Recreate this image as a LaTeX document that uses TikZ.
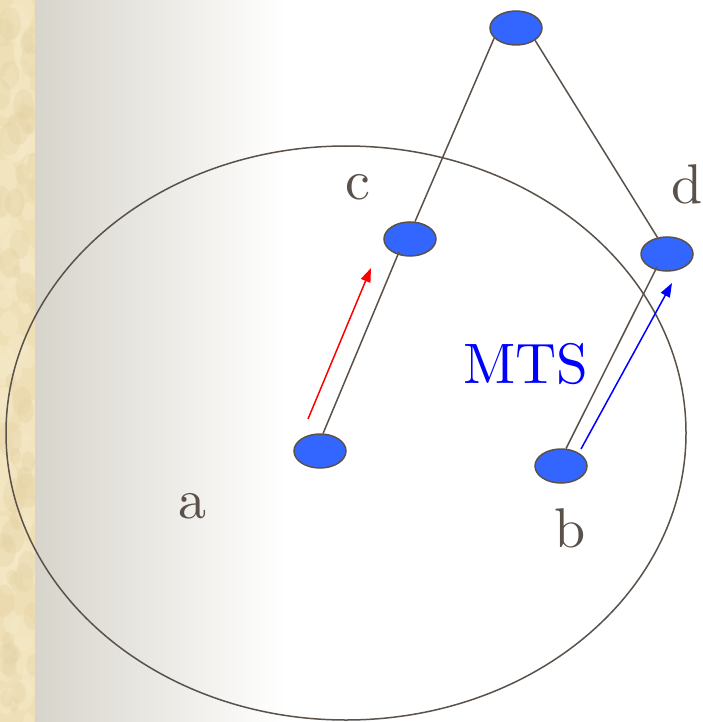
\documentclass[tikz,border=0pt]{standalone}
\usepackage{fontspec}
\newfontfamily\lmten{lmroman10-regular.otf}
\usetikzlibrary{shapes.geometric,arrows.meta,calc}
\definecolor{ink}{HTML}{5A524A}
\definecolor{nodeblue}{HTML}{3366FF}
\definecolor{parch}{HTML}{EFDFB6}
\definecolor{parchlight}{HTML}{F5E9C8}
\definecolor{parchdark}{HTML}{E4D2A4}
\definecolor{grayleft}{HTML}{D7D4CB}
\tikzset{
  vtx/.style={ellipse, draw=ink, line width=1.5pt, fill=nodeblue, minimum width=52pt, minimum height=34pt, inner sep=0pt},
  edge/.style={draw=ink, line width=1.5pt},
  lbl/.style={anchor=base, inner sep=0pt, text=ink, font=\lmten\fontsize{56}{60}\selectfont},
  mts/.style={anchor=base, inner sep=0pt, text=blue, font=\lmten\fontsize{57}{63}\selectfont},
  arr/.style={line width=1.5pt, -{Triangle[length=14pt,width=10pt]}}
}
\begin{document}
\begin{tikzpicture}[x=1pt,y=-1pt]
\useasboundingbox (0,0) rectangle (703,722);
% background
\fill[white] (0,0) rectangle (703,722);
\fill[parch] (0,0) rectangle (35,722);
\pgfmathsetseed{7}
\begin{scope}
\clip (0,0) rectangle (35,722);
\foreach \i in {1,...,70}{
  \pgfmathsetmacro{\xx}{rnd*35}
  \pgfmathsetmacro{\yy}{rnd*722}
  \pgfmathsetmacro{\rr}{5+rnd*10}
  \fill[parchlight, opacity=0.5] (\xx,\yy) ellipse ({\rr} and {\rr*1.4});
}
\foreach \i in {1,...,50}{
  \pgfmathsetmacro{\xx}{rnd*35}
  \pgfmathsetmacro{\yy}{rnd*722}
  \pgfmathsetmacro{\rr}{4+rnd*8}
  \fill[parchdark, opacity=0.35] (\xx,\yy) ellipse ({\rr} and {\rr*1.5});
}
\end{scope}
\shade[left color=grayleft, right color=white] (35,0) rectangle (285,722);
% big ellipse
\draw[ink, line width=1.5pt] (346,433) ellipse (340 and 287);
% nodes
\node[vtx] (top) at (516,28) {};
\node[vtx] (c) at (410,239) {};
\node[vtx] (d) at (667,254) {};
\node[vtx] (a) at (320,451) {};
\node[vtx] (b) at (561,466) {};
% connectors
\draw[edge] (top.205) -- (c.74);
\draw[edge] (top.327) -- (d.120);
\draw[edge] ($(c.center)+(-11,13)$) -- (a.80);
\draw[edge] ($(d.center)+(-10,13)$) -- (b.74);
% arrows
\coordinate (r1) at (308,419);
\coordinate (r2) at (371,268);
\coordinate (b1) at (581,449);
\coordinate (b2) at (672,283);
\draw[arr, red] (r1) -- (r2);
\draw[arr, blue] (b1) -- (b2);
% labels
\node[lbl] (lc) at (358,199) {c};
\node[lbl] (ld) at (687,203) {d};
\node[lbl] (la) at (192,518) {a};
\node[lbl] (lb) at (570,547) {b};
\node[mts] (lmts) at (526,383) {MTS};
\end{tikzpicture}
\end{document}
